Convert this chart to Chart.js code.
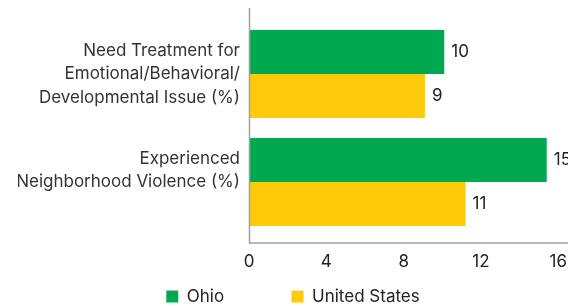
<!DOCTYPE html>
<html><head><meta charset="utf-8">
<script src="https://cdn.jsdelivr.net/npm/chart.js@4"></script>
<style>html,body{margin:0;padding:0;background:#fff}#wrap{width:568px;height:306px}</style>
</head><body><div id="wrap"><canvas id="c"></canvas></div>
<script>
const categories = [
  ['Need Treatment for', 'Emotional/Behavioral/', 'Developmental Issue (%)'],
  ['Experienced', 'Neighborhood Violence (%)', '']
];
const seriesNames = ['Ohio', 'United States'];
const ohioValues = [10.1, 15.4];
const usValues = [9.1, 11.2];
const valueLabels = [[10, 15], [9, 11]];
const xTicks = [0, 4, 8, 12, 16];

const FONT = 'Inter, "DejaVu Sans", sans-serif';
const PAD_L = 18;

const extras = {
  id: 'extras',
  afterDatasetsDraw(chart) {
    const ctx = chart.ctx;
    const a = chart.chartArea;
    ctx.save();
    ctx.strokeStyle = '#a0a0a0';
    ctx.lineWidth = 1.5;
    ctx.beginPath();
    ctx.moveTo(a.left + 0.5, 8);
    ctx.lineTo(a.left + 0.5, 243);
    ctx.lineTo(568, 243);
    ctx.stroke();
    ctx.fillStyle = '#222';
    ctx.font = '17px ' + FONT;
    ctx.textBaseline = 'middle';
    ctx.textAlign = 'left';
    chart.data.datasets.forEach((ds, di) => {
      chart.getDatasetMeta(di).data.forEach((bar, i) => {
        ctx.fillText(String(valueLabels[di][i]), bar.x + 7, bar.y);
      });
    });
    ctx.restore();
  }
};

new Chart(document.getElementById('c'), {
  type: 'bar',
  data: {
    labels: categories,
    datasets: [
      { label: seriesNames[0], data: ohioValues, backgroundColor: '#00A94F', categoryPercentage: 0.815, barPercentage: 1 },
      { label: seriesNames[1], data: usValues, backgroundColor: '#FECB0B', categoryPercentage: 0.815, barPercentage: 1 }
    ]
  },
  options: {
    indexAxis: 'y',
    responsive: true,
    maintainAspectRatio: false,
    animation: false,
    layout: { padding: { top: 20, right: 0, left: PAD_L, bottom: 0 } },
    scales: {
      x: {
        min: 0, max: 16.5,
        grid: { display: false, drawTicks: false },
        border: { display: false },
        ticks: { padding: 16, color: '#222', font: { family: FONT, size: 17 } },
        afterBuildTicks(s) { s.ticks = xTicks.map(v => ({ value: v })); },
        afterFit(s) { s.height = 42; s.paddingLeft = 0; s.paddingRight = 0; }
      },
      y: {
        grid: { display: false, drawTicks: false },
        border: { display: false },
        ticks: { autoSkip: false, padding: 9, color: '#333', font: { family: FONT, size: 17, lineHeight: 1.38 } },
        afterFit(s) { s.width = 249 - PAD_L; s.paddingTop = 0; s.paddingBottom = 0; }
      }
    },
    plugins: {
      legend: {
        position: 'bottom',
        maxHeight: 28,
        labels: {
          boxWidth: 12, boxHeight: 12, padding: 10, color: '#222', font: { family: FONT, size: 17 },
          generateLabels(chart) {
            const items = Chart.defaults.plugins.legend.labels.generateLabels(chart);
            items[0].text = items[0].text + '\u00A0'.repeat(12);
            return items;
          }
        }
      },
      tooltip: { enabled: false }
    }
  },
  plugins: [extras]
});
</script></body></html>
